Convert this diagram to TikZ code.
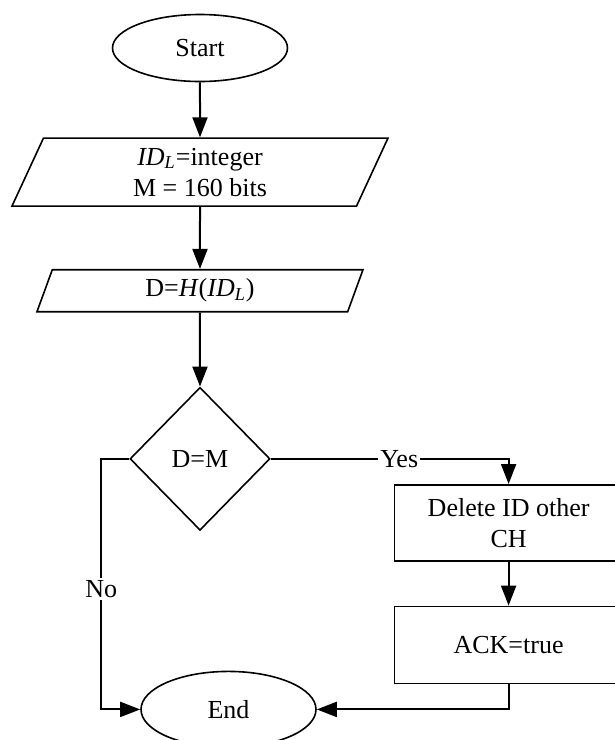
\documentclass[tikz,border=0pt]{standalone}
\usepackage{fontspec}
\setmainfont{Liberation Serif}
\usepackage{tikz}
\usetikzlibrary{arrows.meta,positioning,shapes.geometric}

\begin{document}
\begin{tikzpicture}[
  font=\fontsize{13}{15.5}\selectfont,
  term/.style={draw, ellipse, line width=0.8pt, minimum width=87.5pt, inner sep=0pt},
  io/.style={draw, trapezium, trapezium left angle=57, trapezium right angle=123, trapezium stretches body, line width=0.8pt, align=center, inner sep=0pt},
  cond/.style={draw, diamond, line width=0.8pt, minimum width=70pt, minimum height=71.5pt, inner sep=0pt},
  box/.style={draw, rectangle, line width=0.8pt, align=center, minimum width=114pt},
  lbl/.style={fill=white, inner sep=1pt},
  arr/.style={-{Triangle[length=10pt,width=7.5pt]}, line width=1pt}
]
\useasboundingbox (-100pt,24pt) rectangle (207.5pt,-346pt);
\node[term, minimum height=33.5pt] (start) at (0,0) {Start};
\node[io, minimum width=188pt, minimum height=34pt, below=27.5pt of start] (init) {\textit{ID}\textsubscript{\textit{L}}=integer\\M = 160 bits};
\node[io, minimum width=163pt, minimum height=21pt, below=31pt of init] (hash) {D=\textit{H}(\textit{ID}\textsubscript{\textit{L}})};
\node[cond, below=37pt of hash] (dm) {D=M};
\node[box, minimum height=38pt, right=61.5pt of dm, yshift=-32pt] (del) {Delete ID other\\CH};
\node[box, minimum height=38.5pt, below=22pt of del] (ack) {ACK=true};
\node[term, minimum height=38pt, left=38.5pt of ack, yshift=-32.25pt] (end) {End};
\draw[arr] (start) -- (init);
\draw[arr] (init) -- (hash);
\draw[arr] (hash) -- (dm);
\draw[arr] (dm.east) -| node[lbl, pos=0.27] {Yes} (del.north);
\draw[arr] (del) -- (ack);
\draw[arr] (ack.south) |- (end.east);
\draw[arr] (dm.west) -- ++(-14pt,0) |- node[lbl, pos=0.26] {No} (end.west);
\end{tikzpicture}
\end{document}
